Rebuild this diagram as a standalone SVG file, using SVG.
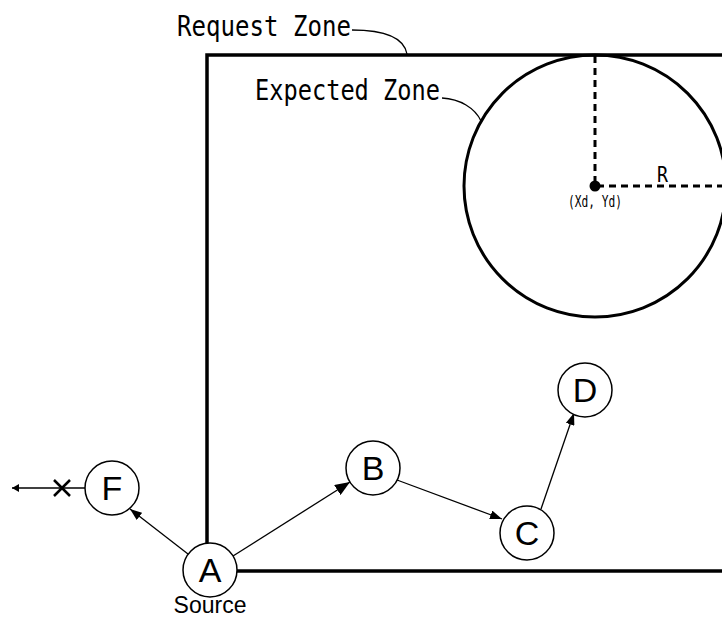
<svg xmlns="http://www.w3.org/2000/svg" width="722" height="621" viewBox="0 0 722 621">
<style>
.zone{fill:none;stroke:#000;stroke-width:3.5}
.dash{fill:none;stroke:#000;stroke-width:3;stroke-dasharray:7 5}
.lead{fill:none;stroke:#000;stroke-width:1.3}
.mono{font-family:"DejaVu Sans Mono","Liberation Mono",monospace;fill:#000}
.node circle{fill:#fff;stroke:#000;stroke-width:1.5}
.node text{font-family:"Liberation Sans",Arial,sans-serif;font-size:34px;text-anchor:middle;fill:#000}
.conn{fill:none;stroke:#000;stroke-width:1.3}
</style>
<defs>
<marker id="big" markerUnits="userSpaceOnUse" markerWidth="15" markerHeight="12" refX="15" refY="6" orient="auto"><path d="M0,0 L15,6 L0,12 z" fill="#000"/></marker>
<marker id="med" markerUnits="userSpaceOnUse" markerWidth="12" markerHeight="9" refX="12" refY="4.5" orient="auto"><path d="M0,0 L12,4.5 L0,9 z" fill="#000"/></marker>
<marker id="small" markerUnits="userSpaceOnUse" markerWidth="7" markerHeight="8" refX="7" refY="4" orient="auto"><path d="M0,0 L7,4 L0,8 z" fill="#000"/></marker>
</defs>
<rect width="722" height="621" fill="#fff"/>
<g id="request-zone">
<path class="zone" d="M207,543 V55 H724"/>
<path class="zone" d="M237,571 H724"/>
<path class="lead" d="M352,30 C385,30 404,38 407,54"/>
<text class="mono" x="177" y="36" font-size="29" textLength="174" lengthAdjust="spacingAndGlyphs">Request Zone</text>
</g>
<g id="expected-zone">
<circle cx="595" cy="186" r="131" fill="none" stroke="#000" stroke-width="3"/>
<path class="dash" d="M595,56 V186 H722"/>
<circle cx="595" cy="186" r="5.5" fill="#000"/>
<path class="lead" d="M442,98 C460,99 475,108 481,121"/>
<text class="mono" x="255" y="100" font-size="29" textLength="185" lengthAdjust="spacingAndGlyphs">Expected Zone</text>
<text class="mono" x="657" y="182" font-size="21" textLength="11" lengthAdjust="spacingAndGlyphs">R</text>
<text class="mono" x="568" y="207" font-size="15" textLength="54" lengthAdjust="spacingAndGlyphs">(Xd, Yd)</text>
</g>
<g id="connectors">
<line class="conn" x1="233" y1="556" x2="350" y2="482" marker-end="url(#big)"/>
<line class="conn" x1="397" y1="480" x2="502" y2="519" marker-end="url(#med)"/>
<line class="conn" x1="541" y1="509" x2="574" y2="413" marker-end="url(#med)"/>
<line class="conn" x1="188" y1="554" x2="130" y2="509" marker-end="url(#med)"/>
<line class="conn" x1="85" y1="488" x2="12" y2="488" marker-end="url(#small)"/>
<path d="M54,480 L70,496 M54,496 L70,480" stroke="#000" stroke-width="2.5" fill="none"/>
</g>
<g id="node-A" class="node"><circle cx="210" cy="570" r="27"/><text x="210" y="582">A</text></g>
<g id="node-B" class="node"><circle cx="373" cy="468" r="27"/><text x="373" y="480">B</text></g>
<g id="node-C" class="node"><circle cx="527" cy="533" r="27"/><text x="527" y="545">C</text></g>
<g id="node-D" class="node"><circle cx="585" cy="390" r="27"/><text x="585" y="402">D</text></g>
<g id="node-F" class="node"><circle cx="112" cy="488" r="27"/><text x="112" y="500">F</text></g>
<text x="210" y="613" font-family="Liberation Sans, Arial, sans-serif" font-size="23" text-anchor="middle">Source</text>
</svg>
